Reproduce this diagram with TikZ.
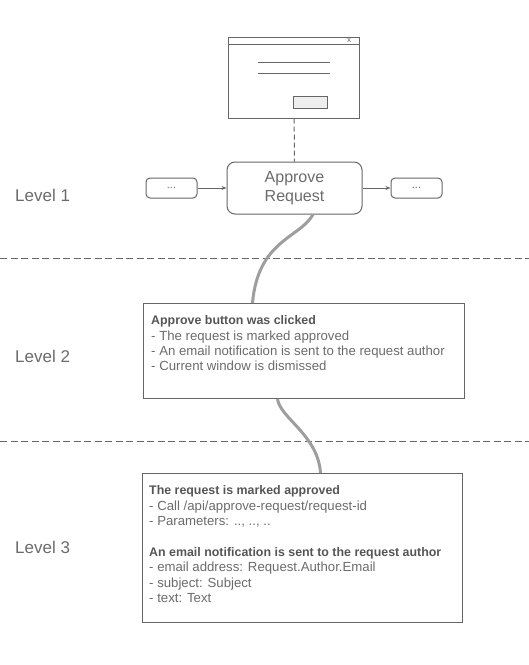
\documentclass[tikz,border=0pt]{standalone}
\usepackage{fontspec}
\setmainfont{Liberation Sans}
\usetikzlibrary{positioning,arrows.meta}

\definecolor{linegray}{HTML}{666666}
\definecolor{textgray}{HTML}{6B6B6B}
\definecolor{boldgray}{HTML}{555555}
\definecolor{wiregray}{HTML}{9E9E9E}
\definecolor{btnfill}{HTML}{EEEEEE}

\newcommand{\hd}[1]{\textcolor{boldgray}{\fontsize{12.4}{15.4}\selectfont\bfseries #1}}

\tikzset{
  box/.style={draw=linegray, line width=1pt, rounded corners=8pt, minimum width=135pt,
    minimum height=52pt, align=center, text=textgray, font=\fontsize{16}{18.5}\selectfont},
  small/.style={draw=linegray, line width=1pt, rounded corners=4pt, minimum width=51pt,
    minimum height=20pt, text=textgray, font=\fontsize{11}{13}\selectfont},
  level/.style={anchor=base west, inner sep=0pt, text=textgray, font=\fontsize{17}{20}\selectfont},
  panel/.style={draw=linegray, line width=1pt, anchor=north west, inner sep=0pt},
  notes/.style={anchor=north west, inner sep=0pt, align=left, text=textgray,
    font=\fontsize{13.2}{15.4}\selectfont},
  wire/.style={draw=wiregray, line width=3pt},
  sep/.style={draw=linegray, line width=1pt, dash pattern=on 7pt off 3.5pt},
  thin/.style={draw=linegray, line width=1pt},
}

\begin{document}
\begin{tikzpicture}[x=1pt,y=-1pt]
  \useasboundingbox (0,0) rectangle (529,665);

  % window mock-up
  \node[thin, minimum width=131pt, minimum height=81pt] (win) at (294,77.5) {};
  \draw[thin] ([yshift=-8pt]win.north west) -- ([yshift=-8pt]win.north east);
  \node[text=textgray, inner sep=0pt, font=\fontsize{8}{9}\selectfont] (close) at (349,40.5) {x};
  \draw[thin] (258,62) -- (330,62);
  \draw[thin] (258,73) -- (330,73);
  \node[thin, fill=btnfill, minimum width=34pt, minimum height=12pt, inner sep=0pt] (btn) at (310,102) {};

  % level 1
  \node[box] (appr) at (294.5,188) {Approve\\Request};
  \node[small, left=29pt of appr] (prev) {...};
  \node[small, right=28pt of appr] (next) {...};

  \draw[thin, dash pattern=on 5pt off 3pt] (win) -- (appr);
  \draw[thin, -{Stealth[length=5pt,width=4pt]}] (prev) -- (appr);
  \draw[thin, -{Stealth[length=5pt,width=4pt]}] (appr) -- (next);

  \node[level] (l1) at (15,201) {Level 1};
  \node[level] (l2) at (15,362) {Level 2};
  \node[level] (l3) at (15,553) {Level 3};

  \draw[sep] (0,258) -- (529,258);
  \draw[sep] (0,441) -- (529,441);

  % level 2
  \node[panel, minimum width=321pt, minimum height=95pt] (p2) at (143,303) {};
  \node[notes] (n2) at ([xshift=8pt,yshift=-12.5pt]p2.north west)
    {\hd{Approve button was clicked}\\
     - The request is marked approved\\
     - An email notification is sent to the request author\\
     - Current window is dismissed};

  % level 3
  \node[panel, minimum width=320pt, minimum height=149pt] (p3) at (142,473) {};
  \node[notes] (n3) at ([xshift=7pt,yshift=-12.5pt]p3.north west)
    {\hd{The request is marked approved}\\
     - Call /api/approve-request/request-id\\
     - Parameters: .., .., ..\\[15.4pt]
     \hd{An email notification is sent to the request author}\\
     - email address: Request.Author.Email\\
     - subject: Subject\\
     - text: Text};

  \draw[wire] ([xshift=18.5pt]appr.south) .. controls (300,238) and (258,240) .. ([xshift=-51.5pt]p2.north);
  \draw[wire] ([xshift=-26.5pt]p2.south) .. controls (280,418) and (318,435) .. ([xshift=18pt]p3.north);

\end{tikzpicture}
\end{document}
